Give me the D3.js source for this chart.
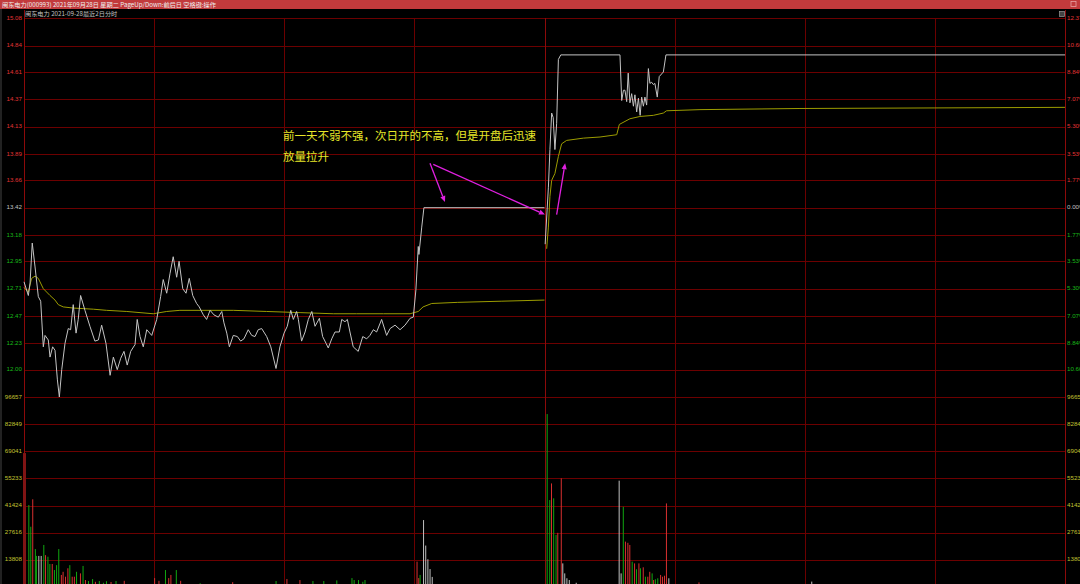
<!DOCTYPE html>
<html><head><meta charset="utf-8">
<script src="https://cdn.jsdelivr.net/npm/d3@7"></script>
<style>body{margin:0;background:#000;overflow:hidden}svg{display:block}</style>
</head><body><svg id="c" width="1080" height="584"></svg>
<script>
// ---------- data ----------
const titleText = "闽东电力(000993) 2021年09月28日 星期二 PageUp/Down:前后日 空格键:操作";
const subText = "闽东电力  2021-09-28最近2日分时";
const prevClose = 13.42;
const maxPct = 0.1237;
const priceTicks = [15.08,14.84,14.61,14.37,14.13,13.89,13.66,13.42,13.18,12.95,12.71,12.47,12.23,12.00];
const pctTicks = ["12.37%","10.60%","8.84%","7.07%","5.30%","3.53%","1.77%","0.00%","1.77%","3.53%","5.30%","7.07%","8.84%","10.60%"];
const volTicks = [96657,82849,69041,55233,41424,27616,13808];
const volTickLabels = ["96657","82849","69041","55233","41424","27616","13808"];
const timeGrid = [0,60,120,180,240,300,360,420,480];

// price line: minute index (0..480, day 2 starts at 240) and price
const priceMin = [0,2,2.8,3.8,5.1,6.6,7.7,8.9,9.7,11.2,12,13.2,14.3,15.4,16.3,17.4,18.9,20.4,21.5,22.7,24,25,26.1,28.1,30.4,32.7,34.3,35.8,37.8,39.7,41.2,43,44.6,46.1,47.6,49.2,51.2,52.2,53.5,55,56.6,58.9,61.2,63,64.2,65.8,67.3,68.8,70.4,71.5,73.2,74.7,76.2,77.8,79.6,80.8,82.7,84.2,85.8,87.6,89.6,91.2,92.2,93.5,94.7,96.5,98.4,99.9,101.4,103.4,105,106.5,108,109.6,111.9,113.8,116.2,118,119.9,121.4,123,124.2,125.7,126.5,128,129.6,131.1,132.7,134.2,136.2,137.7,139.3,140.3,141.9,143.4,145.4,146.5,148,149.1,150.3,151.8,154.1,156.2,158,159.5,161.1,162.6,164.9,167.2,168.8,171.1,173.4,175.7,178,179.5,180.7,181.8,182.1,183.4,184.4,240];
const priceVal = [12.77,12.65,12.76,13.11,12.90,12.64,12.60,12.20,12.30,12.26,12.11,12.20,12.17,11.91,11.76,12.00,12.23,12.36,12.35,12.57,12.32,12.44,12.65,12.52,12.38,12.25,12.26,12.39,12.23,11.95,12.11,12.00,12.10,12.16,12.04,12.16,12.22,12.44,12.29,12.20,12.35,12.30,12.44,12.64,12.79,12.67,12.84,12.99,12.81,12.95,12.71,12.67,12.80,12.65,12.58,12.55,12.48,12.44,12.52,12.48,12.46,12.51,12.41,12.32,12.20,12.30,12.29,12.25,12.27,12.35,12.30,12.29,12.35,12.36,12.29,12.20,12.01,12.20,12.32,12.38,12.52,12.44,12.51,12.44,12.25,12.33,12.44,12.51,12.38,12.45,12.29,12.23,12.19,12.27,12.33,12.33,12.44,12.42,12.44,12.33,12.20,12.16,12.29,12.27,12.30,12.35,12.33,12.44,12.30,12.36,12.39,12.35,12.39,12.45,12.46,12.70,13.08,13.01,13.25,13.42,13.42];
const priceMin2 = [240.3,241.8,242.5,243.3,244,244.8,245.6,246.4,247.5,274.8,275.6,276.4,277.1,277.9,278.6,279.4,280.2,281,281.7,282.5,283.3,284.1,284.8,285.6,286.3,287.1,287.9,288.6,289.4,290.2,290.9,292,292.9,294.8,296,480];
const priceVal2 = [13.10,13.60,13.93,14.25,14.21,13.93,14.16,14.72,14.76,14.76,14.36,14.45,14.45,14.35,14.60,14.34,14.42,14.31,14.41,14.26,14.38,14.23,14.39,14.31,14.39,14.32,14.64,14.51,14.52,14.50,14.51,14.39,14.57,14.61,14.76,14.76];

// average price line
const avgMin = [0,2,3.5,5.1,6.6,8.9,12,14.3,15.8,18.1,22.7,32,38.1,47.4,59.6,65.8,71.9,81.2,96.5,111.9,127.3,142.6,153.4,165.7,178,181.8,184,188,200,220,240];
const avgVal = [12.72,12.68,12.80,12.82,12.80,12.71,12.65,12.61,12.57,12.55,12.54,12.53,12.52,12.51,12.49,12.51,12.52,12.52,12.52,12.51,12.50,12.49,12.49,12.49,12.49,12.51,12.55,12.58,12.59,12.60,12.61];
const avgMin2 = [241,241.8,242.5,243.3,244.8,246.4,247.9,250.2,257.9,265.6,273.3,274.5,279.4,284,290.2,294.8,296.3,311.7,357.8,420,480];
const avgVal2 = [13.06,13.25,13.52,13.66,13.72,13.87,13.98,14.01,14.03,14.04,14.06,14.15,14.20,14.22,14.23,14.25,14.27,14.28,14.29,14.295,14.30];

// volume per minute (only bars tall enough to be visible); dir: u=up, d=down, e=flat
const volMin = [0,2,2.9,3.8,5,5.5,6.6,7.7,8.9,9.7,10.8,11.7,12.8,13.8,14.8,15.8,17,17.8,18.9,20,20.9,22,23,24,25.8,27,28.1,29.5,31.4,32.7,34.5,36.4,37.8,39.9,42.2,46,60,62,65,66.5,67.5,70,72,81,96,116,121,127,133,138,144,151,152,154,156,157,181,181.8,182.4,184,185,186,187,188,
  241,242.2,243,244,245.1,245.9,247.5,248.2,249.1,250.1,251.2,254.4,274.2,275.1,276.1,277.1,278.2,279.1,280.2,281.3,282.2,283.3,284,285.3,286.3,287.4,288.3,289.4,290.1,290.9,292,293.3,294.2,295.1,296,297.1,311,363];
const volVal = [68200,41700,30600,44600,19200,15700,15700,15700,21300,16100,15300,11600,11600,8500,11000,19200,6000,7600,5100,9400,11000,5100,5100,7600,6800,10600,3400,2900,3900,2500,2900,2000,2800,2400,2900,3000,4400,3000,8500,4400,6000,8500,3000,1800,2300,2900,3900,3400,2900,2900,3200,4400,3400,3400,2500,3400,12800,4400,6000,34000,21000,14000,9000,5000,
  88100,44200,52700,45100,26400,27500,55300,11900,6800,4300,3400,2000,54100,6800,40800,23000,22400,21300,12800,11900,8900,11900,9400,9900,5100,5100,7600,6800,3400,3800,4300,6000,5100,5600,42500,4300,2200,2600];
const volDir = ["u","d","d","u","d","d","e","e","d","u","d","d","u","d","d","d","u","u","u","u","d","u","u","d","u","d","u","d","d","u","d","d","d","u","d","u","u","u","d","u","u","d","u","d","u","d","u","u","d","d","d","d","d","d","d","d","u","u","d","e","e","e","e","e",
  "d","d","u","d","d","u","u","e","e","e","e","e","e","e","d","u","u","u","d","u","d","u","d","u","d","u","u","d","u","d","d","u","u","u","u","e","u","e"];

// annotation (data coordinates: minute, price)
const noteLines = ["前一天不弱不强，次日开的不高，但是开盘后迅速","放量拉升"];
const notePos = {m:119.4, p:14.04};
const arrows = [
  {m1:187.2,p1:13.81,m2:194.1,p2:13.47},
  {m1:188.7,p1:13.80,m2:240.2,p2:13.36},
  {m1:245.6,p1:13.36,m2:249.5,p2:13.81}
];

// ---------- drawing ----------
const W=1080,H=584;
const svg=d3.select("#c");
const L=24,R=1065;
const x=d3.scaleLinear().domain([0,480]).range([L,R]);
const y=d3.scaleLinear().domain([prevClose*(1-maxPct),prevClose*(1+maxPct)]).range([397,18.4]);
const yv=d3.scaleLinear().domain([0,96657]).range([586.7,397.3]);

const gridC="#6c0000";
svg.append("rect").attr("width",W).attr("height",H).attr("fill","#000");
// title bar
svg.append("rect").attr("x",0).attr("y",0).attr("width",W).attr("height",9).attr("fill","#c23a3c");
svg.append("text").attr("x",2).attr("y",7).attr("fill","#eeeeee").attr("font-size",6.2)
  .attr("font-family","'Noto Sans CJK SC',sans-serif").text(titleText);
svg.append("rect").attr("x",1071).attr("y",1.5).attr("width",5).attr("height",5).attr("fill","none").attr("stroke","#e8a0a0").attr("stroke-width",0.8);
svg.append("line").attr("x1",1).attr("x2",1).attr("y1",9).attr("y2",H).attr("stroke","#444").attr("stroke-width",1);
// subheader
svg.append("text").attr("x",25).attr("y",16).attr("fill","#c0c0c0").attr("font-size",6.2)
  .attr("font-family","'Noto Sans CJK SC',sans-serif").text(subText);
svg.append("rect").attr("x",1059.5).attr("y",11.5).attr("width",5).attr("height",5).attr("fill","#444").attr("stroke","#999").attr("stroke-width",0.7);

// horizontal price grid
const g=svg.append("g");
g.selectAll(".hp").data(priceTicks).join("line")
  .attr("x1",L).attr("x2",R).attr("y1",d=>Math.round(y(d))+0.5).attr("y2",d=>Math.round(y(d))+0.5)
  .attr("stroke",gridC).attr("stroke-width",1);
g.selectAll(".hv").data(volTicks).join("line")
  .attr("x1",L).attr("x2",R).attr("y1",d=>Math.round(yv(d))+0.5).attr("y2",d=>Math.round(yv(d))+0.5)
  .attr("stroke",gridC).attr("stroke-width",1);
// vertical grid
g.selectAll(".vt").data(timeGrid).join("line")
  .attr("x1",d=>Math.round(x(d))+0.5).attr("x2",d=>Math.round(x(d))+0.5)
  .attr("y1",d=>(d===0||d===480)?10:18).attr("y2",H)
  .attr("stroke",d=>(d===0||d===240||d===480)?"#8c0a0a":gridC).attr("stroke-width",1);

// axis labels
const fnt="'Liberation Sans',Arial,sans-serif";
const colP=(v)=>v>prevClose+0.001?"#e03434":(v<prevClose-0.001?"#18b818":"#c0c0c0");
g.selectAll(".lp").data(priceTicks).join("text")
  .attr("x",22).attr("y",d=>y(d)).attr("text-anchor","end").attr("dominant-baseline","middle")
  .attr("font-size",6.2).attr("font-family",fnt).attr("fill",colP).text(d=>d.toFixed(2));
g.selectAll(".rp").data(priceTicks).join("text")
  .attr("x",1067).attr("y",d=>y(d)).attr("text-anchor","start").attr("dominant-baseline","middle")
  .attr("font-size",6.2).attr("font-family",fnt).attr("fill",colP).text((d,i)=>pctTicks[i]);
g.selectAll(".lv").data(volTicks).join("text")
  .attr("x",22).attr("y",d=>yv(d)).attr("text-anchor","end").attr("dominant-baseline","middle")
  .attr("font-size",6.2).attr("font-family",fnt).attr("fill","#c0c030").text((d,i)=>volTickLabels[i]);
g.selectAll(".rv").data(volTicks).join("text")
  .attr("x",1067).attr("y",d=>yv(d)).attr("text-anchor","start").attr("dominant-baseline","middle")
  .attr("font-size",6.2).attr("font-family",fnt).attr("fill","#c0c030").text((d,i)=>volTickLabels[i]);

// volume bars
const vcol={u:"#d83030",d:"#10a810",e:"#c0c0c0"};
const vols=volMin.map((m,i)=>({m,v:volVal[i],d:volDir[i]}));
svg.append("g").selectAll("line").data(vols).join("line")
  .attr("x1",d=>x(d.m)+0.5).attr("x2",d=>x(d.m)+0.5)
  .attr("y1",yv(0)).attr("y2",d=>yv(d.v))
  .attr("stroke",(d,i)=>i===0?"#801414":vcol[d.d]).attr("stroke-width",(d,i)=>i===0?3:1);

// lines
const line=d3.line().x(d=>x(d[0])).y(d=>y(d[1]));
const z=(a,b)=>a.map((v,i)=>[v,b[i]]);
const avgC="#9c9c00", prC="#c4c4c4";
[[avgMin,avgVal],[avgMin2,avgVal2]].forEach(([a,b])=>{
  svg.append("path").attr("d",line(z(a,b))).attr("fill","none").attr("stroke",avgC).attr("stroke-width",1);
});
[[priceMin,priceVal],[priceMin2,priceVal2]].forEach(([a,b])=>{
  svg.append("path").attr("d",line(z(a,b))).attr("fill","none").attr("stroke",prC).attr("stroke-width",1);
});

// annotation
const ann=svg.append("g");
noteLines.forEach((t,i)=>{
  ann.append("text").attr("x",x(notePos.m)).attr("y",y(notePos.p)+i*20.5)
    .attr("dominant-baseline","middle").attr("font-size",11.5)
    .attr("font-family","'Noto Sans CJK SC',sans-serif").attr("fill","#e6e628").text(t);
});
const mag="#e020e0";
arrows.forEach(a=>{
  const x1=x(a.m1),y1=y(a.p1),x2=x(a.m2),y2=y(a.p2);
  const ang=Math.atan2(y2-y1,x2-x1);
  const hl=6,hw=2.6;
  const bx=x2-hl*Math.cos(ang),by=y2-hl*Math.sin(ang);
  ann.append("line").attr("x1",x1).attr("y1",y1).attr("x2",bx).attr("y2",by).attr("stroke",mag).attr("stroke-width",1.3);
  const p1=[bx+hw*Math.sin(ang),by-hw*Math.cos(ang)],p2=[bx-hw*Math.sin(ang),by+hw*Math.cos(ang)];
  ann.append("path").attr("d",`M${x2},${y2}L${p1[0]},${p1[1]}L${p2[0]},${p2[1]}Z`).attr("fill",mag);
});
</script></body></html>
